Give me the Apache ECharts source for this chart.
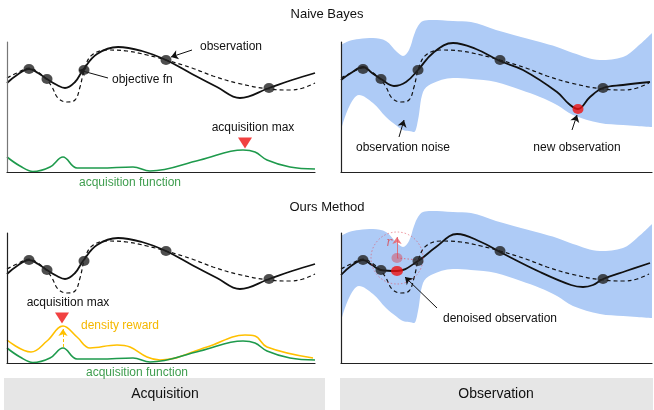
<!DOCTYPE html>
<html>
<head>
<meta charset="utf-8">
<script src="https://cdn.jsdelivr.net/npm/echarts@6/dist/echarts.min.js"></script>
<style>
  html, body { margin: 0; padding: 0; background: #fff; }
  #chart { width: 654px; height: 410px; }
</style>
</head>
<body>
<div id="chart"></div>
<script>
  // every panel: x runs 0..308, y runs 0..130 up from the panel base line

  // objective fn (dashed), same in all panels
  var objX = [0, 10, 22, 31, 40, 45, 51, 60, 68, 73, 78, 85, 100, 120, 140, 159, 185, 206, 230, 262, 283, 296, 308];
  var objY = [94, 99, 104, 100, 92, 85, 74, 70, 72, 85, 105, 117, 122, 121, 117, 112, 104, 96, 89, 83, 82, 84, 89];

  // posterior mean, acquisition panels
  var meanLX = [0, 10, 22, 31, 40, 50, 58, 68, 76, 90, 111, 135, 159, 185, 210, 233, 262, 285, 308];
  var meanLY = [89, 97, 103, 99, 93, 87, 84, 90, 102, 118, 125, 121, 112, 98, 85, 74, 84, 92, 99];

  // posterior mean after the noisy new observation (top right)
  var meanTRX = [0, 10, 22, 31, 40, 53, 65, 77, 92, 112, 135, 159, 182, 216, 228, 237, 249, 262, 282, 309];
  var meanTRY = [92, 99, 105, 99, 93, 86, 90, 102, 119, 129, 123, 111, 102, 80, 68, 63, 75, 84, 87, 90];

  // posterior mean after the denoised observation (bottom right)
  var meanBRX = [0, 10, 22, 31, 40, 56, 77, 95, 116, 140, 159, 199, 230, 242, 252, 262, 285, 309];
  var meanBRY = [88, 97, 103, 98, 93, 92, 102, 116, 129, 121, 111, 91, 78, 76, 78, 84, 92, 100];

  // observations
  var obsX = [22, 40, 77, 159, 262];
  var obsY = [103, 93, 102, 112, 84];
  var newObs = [237, 63];
  var noisyObs = [56, 105];
  var denoisedObs = [56, 92];

  // observation noise band
  var bandX = [0, 8, 18, 32, 45, 56, 62, 68, 73, 77, 82, 90, 112, 130, 155, 180, 199, 216, 232, 259, 282, 296, 311];
  var bandHi = [127, 131, 133, 134, 131, 120, 116, 122, 137, 146, 151, 152, 151, 150, 142, 135, 130, 125, 119, 112, 115, 125, 139];
  var bandLo = [42, 65, 77, 69, 55, 46, 42, 41, 40, 52, 80, 88, 94, 93, 90, 82, 75, 67, 57, 49, 47, 46, 45];

  // acquisition function and density reward
  var acqX = [0, 13, 26, 43, 56, 70, 93, 126, 143, 193, 236, 248, 260, 283, 308];
  var acqY = [15, 6, 0.5, 5, 15, 4, 4, 5, 1, 12, 22, 20, 12, 5, 3];
  var denX = [0, 24, 40, 56, 70, 83, 110, 123, 140, 153, 200, 238, 248, 260, 306];
  var denY = [23, 11, 22, 37, 26, 15, 18, 16, 6, 3, 16, 28, 27, 16, 5];

  var acqMaxTop = [238, 29];
  var acqMaxBottom = [55, 45];

  var FONT = '"Liberation Sans", Arial, sans-serif';
  var BLUE = '#aecbf6';
  var GREEN = '#1e9a4c';
  var ORANGE = '#ffc000';

  function pairs(xs, ys) {
    return xs.map(function (x, i) { return [x, ys[i]]; });
  }

  function curve(gi, xs, ys, color, width, dash, extra) {
    var s = {
      type: 'line', xAxisIndex: gi, yAxisIndex: gi,
      data: pairs(xs, ys), smooth: 0.4, symbol: 'none', silent: true,
      lineStyle: { color: color, width: width, type: dash ? [4, 3] : 'solid' }
    };
    return Object.assign(s, extra || {});
  }

  function dots(gi, data, color, size, extra) {
    return Object.assign({
      type: 'scatter', xAxisIndex: gi, yAxisIndex: gi, data: data, silent: true,
      symbol: 'circle', symbolSize: size, itemStyle: { color: color }, z: 5
    }, extra || {});
  }

  function arrows(list, color, type) {
    return {
      silent: true, symbol: ['none', 'arrow'], symbolSize: 7, animation: false,
      label: { show: false }, emphasis: { disabled: true },
      lineStyle: { color: color || '#111', width: 1, type: type || 'solid' },
      data: list.map(function (a) { return [{ coord: a[0] }, { coord: a[1] }]; })
    };
  }

  // band: blue fill under the upper edge, then white fill under the lower edge
  function band(gi) {
    return [
      {
        type: 'line', xAxisIndex: gi, yAxisIndex: gi, silent: true,
        data: pairs(bandX, bandHi), symbol: 'none', smooth: 0.35, clip: false,
        lineStyle: { width: 0 }, areaStyle: { color: BLUE, opacity: 1 }
      },
      {
        type: 'line', xAxisIndex: gi, yAxisIndex: gi, silent: true,
        data: pairs(bandX, bandLo), symbol: 'none', smooth: 0.35, clip: false,
        lineStyle: { width: 0 }, areaStyle: { color: '#fff', opacity: 1 }
      }
    ];
  }

  var grids = [
    { left: 7, top: 42, width: 308, height: 130 },
    { left: 341, top: 42, width: 311, height: 130 },
    { left: 7, top: 233, width: 308, height: 130 },
    { left: 341, top: 233, width: 311, height: 130 }
  ];

  var xAxes = grids.map(function (g, i) {
    return {
      gridIndex: i, type: 'value', min: 0, max: g.width, z: 10,
      axisLine: { onZero: false, lineStyle: { color: '#222', width: 1.2 } },
      axisTick: { show: false }, axisLabel: { show: false }, splitLine: { show: false }
    };
  });
  var yAxes = grids.map(function (g, i) {
    return {
      gridIndex: i, type: 'value', min: 0, max: 130, z: 10,
      axisLine: { show: true, onZero: false, lineStyle: { color: i === 0 ? '#777' : '#222', width: 1.2 } },
      axisTick: { show: false }, axisLabel: { show: false }, splitLine: { show: false }
    };
  });

  var obsData = pairs(obsX, obsY);
  var tri = { symbol: 'triangle', symbolRotate: 180, symbolSize: [14, 11] };

  var series = [].concat(
    // top left: acquisition, Naive Bayes
    curve(0, objX, objY, '#111', 1.2, true, {
      markLine: arrows([[[185, 122], [164, 115]], [[101, 94], [72, 102]]])
    }),
    curve(0, meanLX, meanLY, '#111', 1.8, false),
    curve(0, acqX, acqY, GREEN, 1.6, false),
    dots(0, obsData, '#222', [11, 10]),
    dots(0, [acqMaxTop], '#ee1111', 0, tri),

    // top right: observation, Naive Bayes
    band(1),
    curve(1, objX, objY, '#111', 1.2, true, {
      markLine: arrows([[[58, 35], [63, 52]], [[231, 42], [236, 57]]])
    }),
    curve(1, meanTRX, meanTRY, '#111', 1.8, false),
    dots(1, obsData, '#222', [11, 10]),
    dots(1, [newObs], '#ee1111', [11, 10]),

    // bottom left: acquisition, ours
    curve(2, objX, objY, '#111', 1.2, true),
    curve(2, meanLX, meanLY, '#111', 1.8, false),
    curve(2, denX, denY, ORANGE, 1.6, false, {
      markLine: arrows([[[56, 16], [56, 34]]], ORANGE, [3, 2])
    }),
    curve(2, acqX, acqY, GREEN, 1.6, false),
    dots(2, obsData, '#222', [11, 10]),
    dots(2, [acqMaxBottom], '#ee1111', 0, tri),

    // bottom right: observation, ours
    band(3),
    curve(3, objX, objY, '#111', 1.2, true, {
      markLine: arrows([[[96, 55], [64, 86]]])
    }),
    curve(3, meanBRX, meanBRY, '#111', 1.8, false),
    dots(3, obsData, '#222', [11, 10]),
    dots(3, [noisyObs], 'rgba(0,0,0,0)', 52, {
      itemStyle: { color: 'rgba(0,0,0,0)', borderColor: 'rgba(225,80,95,0.75)', borderWidth: 1, borderType: [1.5, 2] },
      z: 4,
      markLine: {
        silent: true, animation: false, label: { show: false }, emphasis: { disabled: true },
        symbol: ['none', 'none'],
        lineStyle: { color: 'rgba(225,80,95,0.75)', width: 1, type: [1.5, 2] },
        data: [[{ coord: noisyObs }, { coord: [78, 103] }]]
      }
    }),
    dots(3, [noisyObs], 'rgba(215,70,85,0.6)', [11, 10], {
      markLine: arrows([[noisyObs, [56, 126]]], 'rgba(230,90,100,0.8)')
    }),
    dots(3, [denoisedObs], '#ee1111', [12, 10])
  );

  function text(x, y, s, o) {
    o = o || {};
    return {
      type: 'text', x: x, y: y, silent: true, z: 20,
      style: {
        text: s, fill: o.fill || '#111', font: (o.font || '12px ') + FONT,
        align: o.align || 'center', verticalAlign: 'middle',
        textAlign: o.align || 'center', textVerticalAlign: 'middle'
      }
    };
  }

  var graphics = [
    { type: 'rect', shape: { x: 4, y: 378, width: 321, height: 32 }, style: { fill: '#e6e6e6' }, silent: true, z: 1 },
    { type: 'rect', shape: { x: 340, y: 378, width: 313, height: 32 }, style: { fill: '#e6e6e6' }, silent: true, z: 1 },
    text(327, 14, 'Naive Bayes', { font: '13px ' }),
    text(327, 207, 'Ours Method', { font: '13px ' }),
    text(200, 47, 'observation', { align: 'left' }),
    text(112, 80, 'objective fn', { align: 'left' }),
    text(253, 128, 'acquisition max'),
    text(130, 183, 'acquisition function', { fill: '#3f9e4f' }),
    text(403, 148, 'observation noise'),
    text(577, 148, 'new observation'),
    text(68, 303, 'acquisition max'),
    text(81, 326, 'density reward', { align: 'left', fill: '#f5b800' }),
    text(137, 373, 'acquisition function', { fill: '#3f9e4f' }),
    text(500, 319, 'denoised observation'),
    {
      type: 'text', x: 389, y: 243, silent: true, z: 20,
      style: { text: 'r', fill: 'rgba(215,80,90,0.85)', font: 'italic 12px "DejaVu Serif", serif', align: 'center', verticalAlign: 'middle', textAlign: 'center', textVerticalAlign: 'middle' }
    },
    text(165, 394, 'Acquisition', { font: '14px ' }),
    text(496, 394, 'Observation', { font: '14px ' })
  ];

  var chart = echarts.init(document.getElementById('chart'), null, { renderer: 'canvas' });
  chart.setOption({
    animation: false,
    backgroundColor: '#fff',
    grid: grids,
    xAxis: xAxes,
    yAxis: yAxes,
    series: series,
    graphic: graphics
  });
</script>
</body>
</html>
